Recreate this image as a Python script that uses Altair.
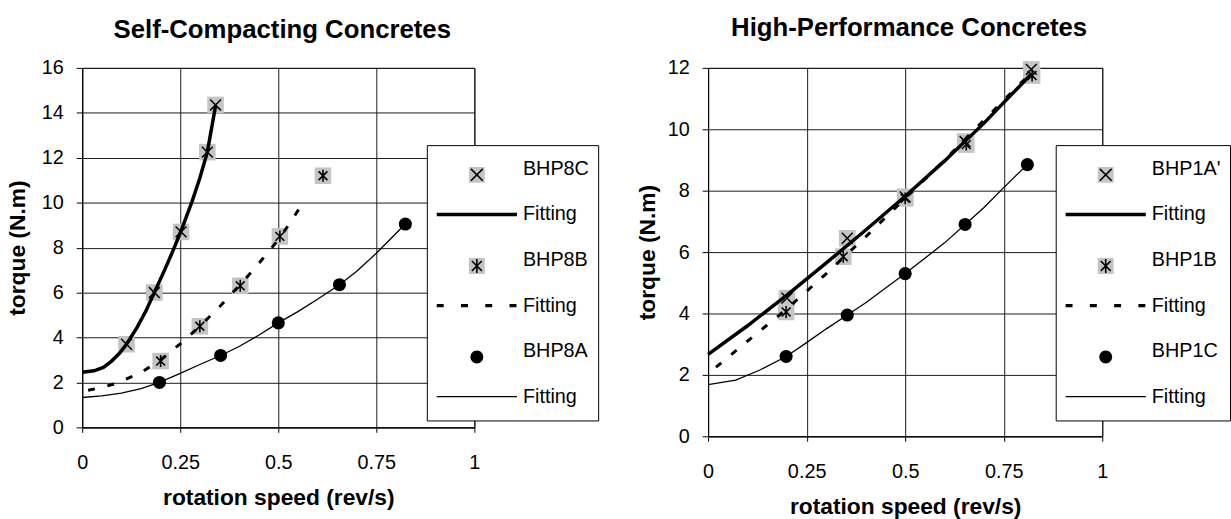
import altair as alt
import pandas as pd

FONT = "Liberation Sans"

# ---------------- data: Self-Compacting Concretes ----------------
scc_keys = ["BHP8C", "Fit1", "BHP8B", "Fit2", "BHP8A", "Fit3"]

bhp8c_x = [0.113, 0.184, 0.252, 0.319, 0.340]
bhp8c_y = [3.7, 6.0, 8.7, 12.25, 14.35]
bhp8b_x = [0.200, 0.300, 0.403, 0.504, 0.614]
bhp8b_y = [2.95, 4.5, 6.3, 8.5, 11.2]
bhp8a_x = [0.197, 0.353, 0.500, 0.656, 0.824]
bhp8a_y = [2.0, 3.2, 4.65, 6.35, 9.05]

fit8c_x = [0, 0.03, 0.054, 0.075, 0.095, 0.113, 0.14, 0.163, 0.184, 0.21, 0.23, 0.25, 0.28, 0.30, 0.319, 0.34]
fit8c_y = [2.45, 2.52, 2.67, 2.95, 3.3, 3.7, 4.45, 5.2, 6.0, 7.0, 7.8, 8.65, 10.05, 11.1, 12.25, 14.3]
fit8b_x = [0.015, 0.05, 0.087, 0.146, 0.2, 0.25, 0.3, 0.348, 0.4, 0.446, 0.5, 0.526, 0.567]
fit8b_y = [1.65, 1.78, 1.96, 2.4, 3.0, 3.72, 4.5, 5.33, 6.3, 7.2, 8.35, 9.0, 10.1]
fit8a_x = [0, 0.05, 0.1, 0.15, 0.197, 0.25, 0.3, 0.353, 0.4, 0.45, 0.5, 0.55, 0.6, 0.656, 0.7, 0.75, 0.824]
fit8a_y = [1.33, 1.40, 1.52, 1.72, 2.0, 2.4, 2.8, 3.2, 3.6, 4.1, 4.65, 5.15, 5.7, 6.35, 6.95, 7.75, 9.05]

# ---------------- data: High-Performance Concretes ----------------
hpc_keys = ["BHP1A'", "Fit1", "BHP1B", "Fit2", "BHP1C", "Fit3"]

bhp1a_x = [0.200, 0.353, 0.500, 0.652, 0.820]
bhp1a_y = [4.5, 6.45, 7.8, 9.6, 11.95]
bhp1b_x = [0.198, 0.343, 0.500, 0.655, 0.822]
bhp1b_y = [4.05, 5.85, 7.75, 9.5, 11.75]
bhp1c_x = [0.198, 0.353, 0.500, 0.652, 0.810]
bhp1c_y = [2.6, 3.95, 5.3, 6.9, 8.85]

fit1a_x = [0, 0.1, 0.2, 0.3, 0.4, 0.5, 0.6, 0.7, 0.82]
fit1a_y = [2.67, 3.6, 4.6, 5.65, 6.72, 7.82, 8.97, 10.2, 11.8]
fit1b_x = [0.02, 0.1, 0.2, 0.3, 0.4, 0.5, 0.6, 0.7, 0.805]
fit1b_y = [2.25, 3.1, 4.15, 5.3, 6.5, 7.75, 9.0, 10.3, 11.65]
fit1c_x = [0, 0.07, 0.13, 0.198, 0.25, 0.3, 0.353, 0.4, 0.5, 0.6, 0.652, 0.7, 0.75, 0.81]
fit1c_y = [1.68, 1.83, 2.15, 2.6, 3.05, 3.5, 3.95, 4.35, 5.3, 6.3, 6.9, 7.45, 8.1, 8.85]

x_ticks = [0, 0.25, 0.5, 0.75, 1]

# ---------------- symbol paths (legend drawn at 40.5 px per path unit) ----------------
S = 40.5
LEG_SIZE = int((2 * S) ** 2)


def P(s):
    out = []
    for t in s:
        if isinstance(t, (int, float)):
            out.append(f"{t / S:.4f}")
        else:
            out.append(t)
    return "".join(out)


def rect(x0, x1, y0, y1):
    return P(["M", x0, ",", y0, "H", x1, "V", y1, "H", x0, "Z"])


DY = 6  # marker offset below the label line
sq_leg = rect(-8, 8, DY - 8, DY + 8)
r = 6.5
dot_leg = P(["M", -r, ",", DY, "A", r, ",", r, " 0 1,0 ", r, ",", DY,
             "A", r, ",", r, " 0 1,0 ", -r, ",", DY, "Z"])
thick_leg = rect(-S, S, -1.8, 1.8)
thin_leg = rect(-S, S, -0.7, 0.7)
dash_leg = "".join(rect(-S + o, -S + o + 7, -1.6, 1.6) for o in [0, 24.5, 49, 73.5])
x_leg = P(["M", -6, ",", DY - 6, "L", 6, ",", DY + 6, "M", 6, ",", DY - 6, "L", -6, ",", DY + 6])
ast_leg = P(["M", -5, ",", DY - 5, "L", 5, ",", DY + 5, "M", 5, ",", DY - 5, "L", -5, ",", DY + 5,
             "M", 0, ",", DY - 7, "L", 0, ",", DY + 7])
empty = "M0,0"

GRAY = "#c4c4c4"
X_PATH = "M-1,-1L1,1M1,-1L-1,1"
AST_PATH = "M-0.85,-0.85L0.85,0.85M0.85,-0.85L-0.85,0.85M0,-1.15L0,1.15"


def panel(title, keys, pts, fits, ymax, height, width, legend_xy, title_offset, ytitle_pad):
    prow = []
    for k, xs, ys, kind in pts:
        for a, b in zip(xs, ys):
            prow.append({"s": k, "x": a, "y": b, "kind": kind})
    pdf = pd.DataFrame(prow)
    lrow = []
    for k, xs, ys, style in fits:
        for i, (a, b) in enumerate(zip(xs, ys)):
            lrow.append({"s": k, "x": a, "y": b, "i": i})
    ldf = pd.DataFrame(lrow)

    X = alt.X("x:Q", scale=alt.Scale(domain=[0, 1], nice=False, zero=False),
              axis=alt.Axis(values=x_ticks, labelExpr="'' + datum.value",
                            title="rotation speed (rev/s)", grid=True, gridColor="#1a1a1a",
                            gridOpacity=1, tickSize=5, labelPadding=21, titlePadding=14,
                            labelFontSize=20, labelFont=FONT, titleFont=FONT,
                            titleFontSize=23, titleFontWeight="bold", labelColor="black",
                            titleColor="black", domainColor="black", tickColor="black",
                            labelFlush=False, labelOverlap=False))
    Y = alt.Y("y:Q", scale=alt.Scale(domain=[0, ymax], nice=False),
              axis=alt.Axis(values=list(range(0, ymax + 1, 2)), title="torque (N.m)",
                            grid=True, gridColor="#1a1a1a", gridOpacity=1, tickSize=6,
                            labelPadding=13, titlePadding=ytitle_pad, labelFontSize=20,
                            labelFont=FONT, titleFont=FONT, titleFontSize=23,
                            titleFontWeight="bold", labelColor="black", titleColor="black",
                            domainColor="black", tickColor="black", labelFlush=False,
                            labelOverlap=False))

    base_p = alt.Chart(pdf)
    base_l = alt.Chart(ldf)
    layers = []
    layers.append(base_p.transform_filter("datum.kind != 'dot'").mark_point(
        shape="square", filled=True, fill=GRAY, size=280, strokeWidth=0, opacity=1
    ).encode(x=X, y=Y))
    for k, xs, ys, style in fits:
        if style == "thick":
            m = base_l.mark_line(color="black", strokeWidth=3.5)
        elif style == "dash":
            m = base_l.mark_line(color="black", strokeWidth=3, strokeDash=[7, 13])
        else:
            m = base_l.mark_line(color="black", strokeWidth=1.3)
        layers.append(m.transform_filter(alt.datum.s == k).encode(x=X, y=Y, order="i:Q"))
    layers.append(base_p.transform_filter("datum.kind == 'x'").mark_point(
        shape=X_PATH, filled=False, stroke="black", strokeWidth=1.5, size=120, opacity=1
    ).encode(x=X, y=Y))
    layers.append(base_p.transform_filter("datum.kind == 'ast'").mark_point(
        shape=AST_PATH, filled=False, stroke="black", strokeWidth=1.6, size=110, opacity=1
    ).encode(x=X, y=Y))
    layers.append(base_p.transform_filter("datum.kind == 'dot'").mark_point(
        shape="circle", filled=True, fill="black", size=175, strokeWidth=0, opacity=1
    ).encode(x=X, y=Y))

    kinds = {k: kind for k, _, _, kind in pts}
    styles = {k: st for k, _, _, st in fits}
    fill_shapes, fill_cols, stroke_shapes = [], [], []
    for k in keys:
        if k in kinds:
            if kinds[k] == "dot":
                fill_shapes.append(dot_leg); fill_cols.append("black"); stroke_shapes.append(empty)
            else:
                fill_shapes.append(sq_leg); fill_cols.append(GRAY)
                stroke_shapes.append(x_leg if kinds[k] == "x" else ast_leg)
        else:
            st = styles[k]
            fill_shapes.append({"thick": thick_leg, "dash": dash_leg, "thin": thin_leg}[st])
            fill_cols.append("black"); stroke_shapes.append(empty)

    legdf = pd.DataFrame({"k": keys, "x": [None] * len(keys), "y": [None] * len(keys)})
    lx, ly = legend_xy
    common = dict(orient="none", legendX=lx, legendY=ly, title=None, symbolSize=LEG_SIZE,
                  symbolStrokeWidth=1.6, clipHeight=30, rowPadding=16, padding=9,
                  labelOffset=5, labelFont=FONT, labelFontSize=20, labelColor="black",
                  labelLimit=300,
                  labelExpr="indexof(datum.label, 'Fit') == 0 ? 'Fitting' : datum.label")
    leg_a = alt.Legend(fillColor="white", strokeColor="black", symbolStrokeColor="transparent",
                       **common)
    leg_b = alt.Legend(symbolStrokeColor="black", symbolFillColor="transparent",
                       labelOpacity=0, **common)
    layers.append(alt.Chart(legdf).mark_point(filled=True, opacity=1).encode(
        x=X, y=Y,
        shape=alt.Shape("k:N", scale=alt.Scale(domain=keys, range=fill_shapes), legend=leg_a),
        fill=alt.Fill("k:N", scale=alt.Scale(domain=keys, range=fill_cols), legend=leg_a),
    ))
    layers.append(alt.Chart(legdf).mark_point(filled=False, stroke="black", strokeWidth=1.6,
                                              opacity=1).encode(
        x=X, y=Y,
        shape=alt.Shape("k:N", scale=alt.Scale(domain=keys, range=stroke_shapes), legend=leg_b),
    ))

    return alt.layer(*layers).resolve_scale(
        shape="independent", fill="independent"
    ).properties(
        width=width, height=height,
        title=alt.TitleParams(title, fontSize=26, font=FONT, fontWeight="bold",
                              anchor="middle", frame="group", offset=title_offset,
                              color="black", dx=4),
    )


left = panel(
    "Self-Compacting Concretes", scc_keys,
    [("BHP8C", bhp8c_x, bhp8c_y, "x"), ("BHP8B", bhp8b_x, bhp8b_y, "ast"),
     ("BHP8A", bhp8a_x, bhp8a_y, "dot")],
    [("Fit1", fit8c_x, fit8c_y, "thick"), ("Fit2", fit8b_x, fit8b_y, "dash"),
     ("Fit3", fit8a_x, fit8a_y, "thin")],
    ymax=16, height=363, width=396, legend_xy=(348, 78), title_offset=15, ytitle_pad=12,
)
right = panel(
    "High-Performance Concretes", hpc_keys,
    [("BHP1A'", bhp1a_x, bhp1a_y, "x"), ("BHP1B", bhp1b_x, bhp1b_y, "ast"),
     ("BHP1C", bhp1c_x, bhp1c_y, "dot")],
    [("Fit1", fit1a_x, fit1a_y, "thick"), ("Fit2", fit1b_x, fit1b_y, "dash"),
     ("Fit3", fit1c_x, fit1c_y, "thin")],
    ymax=12, height=372, width=398, legend_xy=(351, 78), title_offset=17, ytitle_pad=8,
)

chart = alt.hconcat(left, right, spacing=37).properties(
    padding={"left": 6, "right": 0, "top": 12, "bottom": 0},
    background="white",
).configure_view(stroke="black", strokeWidth=1)

chart.save("out.html", embed_options={"renderer": "svg", "actions": False})
